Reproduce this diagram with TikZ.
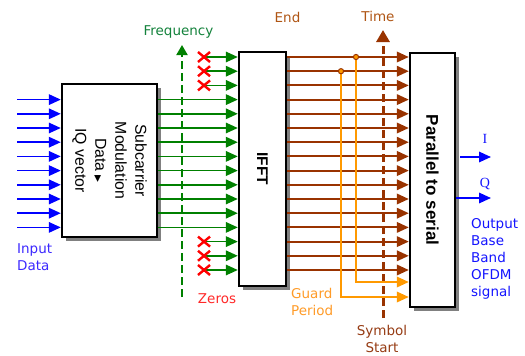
\documentclass[tikz,border=0pt]{standalone}
\usepackage{fontspec}
\setmainfont{DejaVu Sans}
\newfontfamily\arial{Liberation Sans}
\newfontfamily\tnr{Liberation Serif}
\newfontfamily\dejavu{DejaVu Sans}
\usetikzlibrary{arrows.meta,shadows}
\definecolor{cblue}{RGB}{0,0,255}
\definecolor{cgreen}{RGB}{0,128,0}
\definecolor{cbrown}{RGB}{153,51,0}
\definecolor{corange}{RGB}{255,153,0}
\definecolor{cred}{RGB}{255,0,0}
\definecolor{cshadow}{RGB}{128,128,128}
\definecolor{tfreq}{RGB}{20,130,60}
\definecolor{tend}{RGB}{175,85,20}
\definecolor{tsym}{RGB}{150,60,20}
\definecolor{tguard}{RGB}{255,155,40}
\definecolor{tzero}{RGB}{255,40,40}
\definecolor{tin}{RGB}{60,40,255}
\definecolor{tout}{RGB}{20,20,255}
\begin{document}
\begin{tikzpicture}[x=1pt,y=-1pt,
  box/.style={draw=black,line width=2.4pt,fill=white,inner sep=0pt,
    drop shadow={shadow xshift=4pt,shadow yshift=-4pt,fill=cshadow,opacity=1}},
  tipA/.style={-{Triangle[length=12pt,width=10.5pt]}},
  bluearr/.style={tipA,draw=cblue,line width=1.7pt},
  greenarr/.style={tipA,draw=cgreen,line width=1.7pt},
  brownarr/.style={tipA,draw=cbrown,line width=1.9pt},
  orangearr/.style={tipA,draw=corange,line width=1.9pt},
  xmark/.style={draw=cred,line width=2.4pt},
  freqline/.style={draw=cgreen,line width=2pt,dash pattern=on 8pt off 4pt,
    -{Triangle[length=10pt,width=11pt]}},
  timeline/.style={draw=cbrown,line width=3pt,dash pattern=on 8pt off 4pt,
    -{Triangle[length=12pt,width=13pt]}},
  gdot/.style={draw=cbrown,fill=corange,line width=1pt},
  lbl/.style={font=\dejavu\fontsize{13.5}{17}\selectfont,inner sep=0pt},
  boxtxt/.style={inner sep=0pt,rotate=-90,align=center}
]
\useasboundingbox (0,0) rectangle (525,356);

% rows
\foreach \k in {0,...,15} \coordinate (r\k) at (0,{57+14.2*\k});

% boxes
\node[box,minimum width=95pt,minimum height=153pt] (mod) at (109.5,160.5) {};
\node[box,minimum width=47pt,minimum height=234pt] (ifft) at (262.5,169) {};
\node[box,minimum width=45pt,minimum height=254pt] (ps) at (432.5,180) {};

\node[boxtxt,font=\arial\fontsize{15.8}{20}\selectfont] (modtxt) at (mod.center)
  {Subcarrier\\Modulation\\Data {\dejavu\fontsize{9}{9}\selectfont ▶}\\IQ vector};
\node[boxtxt,font=\arial\bfseries\fontsize{15.5}{18}\selectfont] (iffttxt) at (ifft.center) {IFFT};
\node[boxtxt,font=\arial\bfseries\fontsize{17}{20}\selectfont] (pstxt) at (ps.center) {Parallel to serial};

% input arrows
\foreach \k in {3,...,12} {
  \coordinate (in\k) at (17,{57+14.2*\k});
  \draw[bluearr] (in\k) -- (mod.west |- r\k);
}
% modulated carriers
\foreach \k in {3,...,12} \draw[greenarr] (mod.east |- r\k) -- (ifft.west |- r\k);
% zero carriers
\foreach \k in {0,1,2,13,14,15} {
  \coordinate (z\k) at (204,{57+14.2*\k});
  \draw[greenarr] (z\k) -- (ifft.west |- r\k);
  \draw[xmark] (z\k) +(-6,-5) -- +(6,5) +(-6,5) -- +(6,-5);
}
% frequency axis
\coordinate (fb) at (182,297);
\coordinate (ft) at (182,45);
\draw[freqline] (fb) -- (ft);

% time-domain samples
\foreach \k in {0,...,15} \draw[brownarr] (ifft.east |- r\k) -- (ps.west |- r\k);

% time axis
\coordinate (tb) at (383,318);
\coordinate (tt) at (383,30);
\draw[timeline] (tb) -- (tt);

% guard period
\coordinate (g1) at (356,57);
\coordinate (g1b) at (356,282);
\coordinate (g2) at (341,71.2);
\coordinate (g2b) at (341,297);
\draw[orangearr] (g1) -- (g1b) -- (ps.west |- g1b);
\draw[orangearr] (g2) -- (g2b) -- (ps.west |- g2b);
\draw[gdot] (g1) circle (2.6);
\draw[gdot] (g2) circle (2.6);

% outputs
\coordinate (iend) at (491,157);
\coordinate (qend) at (491,198);
\draw[bluearr] ([xshift=4pt]ps.east |- iend) -- (iend);
\draw[bluearr] (ps.east |- qend) -- (qend);

% labels
\node[lbl,text=tfreq,anchor=base] (lfreq) at (178.5,35) {Frequency};
\node[lbl,text=tzero,anchor=base] (lzero) at (217,303) {Zeros};
\node[lbl,text=tend,anchor=base] (lend) at (287.5,22) {End};
\node[lbl,text=tend,anchor=base] (ltime) at (378,21) {Time};
\node[lbl,text=tguard,anchor=base west] (lguard1) at (291,298) {Guard};
\node[lbl,text=tguard,anchor=base west] (lguard2) at (291,315) {Period};
\node[lbl,text=tsym,anchor=base] (lsym1) at (382,335) {Symbol};
\node[lbl,text=tsym,anchor=base] (lsym2) at (382,352) {Start};
\node[lbl,text=tin,anchor=base west] (lin1) at (17,253) {Input};
\node[lbl,text=tin,anchor=base west] (lin2) at (17,270) {Data};
\node[lbl,text=tout,anchor=base west] (lout1) at (471,228) {Output};
\node[lbl,text=tout,anchor=base west] (lout2) at (471,245) {Base};
\node[lbl,text=tout,anchor=base west] (lout3) at (471,262) {Band};
\node[lbl,text=tout,anchor=base west] (lout4) at (471,279) {OFDM};
\node[lbl,text=tout,anchor=base west] (lout5) at (471,296) {signal};
\node[inner sep=0pt,text=tout,anchor=base,font=\tnr\fontsize{14}{16}\selectfont] (li) at (485,143) {I};
\node[inner sep=0pt,text=tout,anchor=base,font=\tnr\fontsize{14}{16}\selectfont] (lq) at (485,187) {Q};
\end{tikzpicture}
\end{document}
